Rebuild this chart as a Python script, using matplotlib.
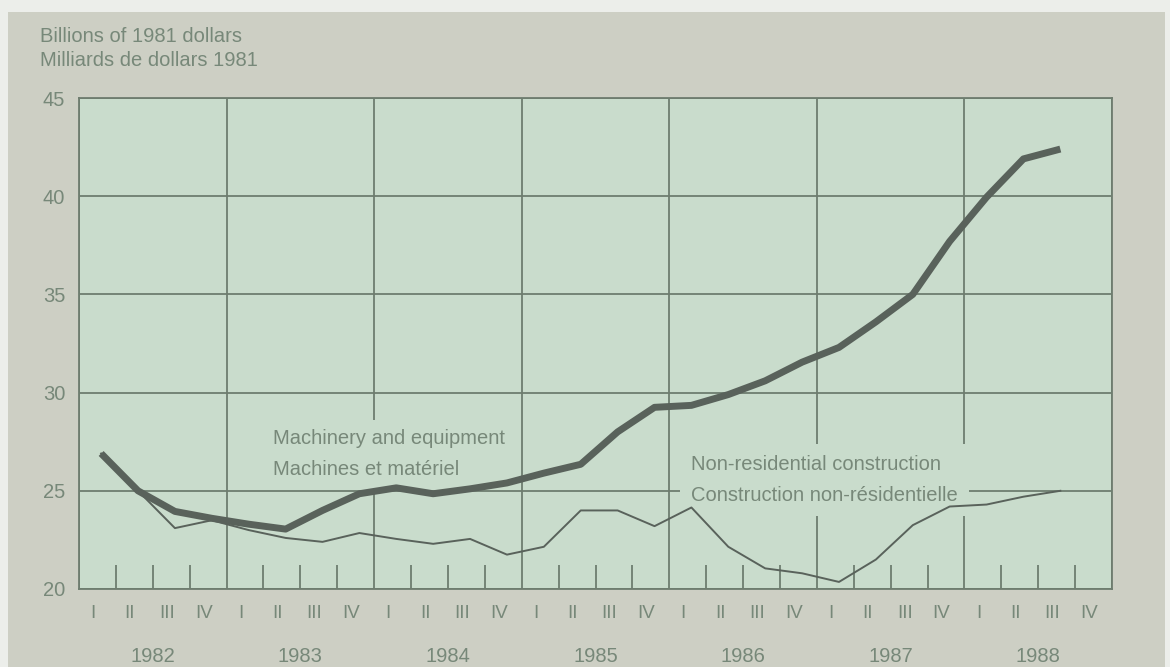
import matplotlib
matplotlib.use('Agg')
import matplotlib.pyplot as plt
from matplotlib.patches import Rectangle
import numpy as np

plt.rcParams['font.family'] = ['Liberation Sans', 'DejaVu Sans']

# quarterly data, 1982 I .. 1988 III (billions of 1981 dollars)
years = ['1982', '1983', '1984', '1985', '1986', '1987', '1988']
quarters = ['I', 'II', 'III', 'IV']
machinery = [26.9, 25.0, 23.95, 23.6, 23.3, 23.05, 24.0, 24.85,
             25.15, 24.85, 25.1, 25.4, 25.9, 26.35, 28.0, 29.25,
             29.35, 29.9, 30.6, 31.55, 32.3, 33.6, 35.0, 37.7,
             39.95, 41.9, 42.4]
construction = [26.9, 25.0, 23.1, 23.5, 23.0, 22.6, 22.4, 22.85,
                22.55, 22.3, 22.55, 21.75, 22.15, 24.0, 24.0, 23.2,
                24.15, 22.15, 21.05, 20.8, 20.36, 21.5, 23.25, 24.2,
                24.3, 24.7, 25.0]

bg_panel = '#cdcfc4'
plot_bg = '#c9dccc'
grid_c = '#6e7d6f'
line_c = '#59625b'
text_c = '#778879'

fig = plt.figure(figsize=(11.7, 6.67), dpi=100)
fig.patch.set_facecolor('#eceeea')
fig.patches.append(Rectangle((8/1170, 0), 1157/1170, 655/667, transform=fig.transFigure,
                             facecolor=bg_panel, edgecolor='none', zorder=-5))

ax = fig.add_axes([79/1170, 78/667, 1033/1170, 491/667])
ax.set_zorder(1)
ax.set_facecolor(plot_bg)

n_q = len(years) * 4
x = np.arange(len(machinery)) + 0.6

ax.plot(x, construction, color=line_c, lw=1.4, zorder=4, solid_joinstyle='round')
ax.plot(x, machinery, color=line_c, lw=5, zorder=5, solid_joinstyle='round',
        solid_capstyle='butt')

ax.set_xlim(0, n_q)
ax.set_ylim(20, 45)
ax.set_yticks(np.arange(20, 46, 5))
ax.set_xticks(np.arange(0, n_q + 1, 4))
ax.set_xticks([q for q in range(n_q) if q % 4 != 0], minor=True)
ax.grid(True, which='major', color=grid_c, lw=1.3, zorder=1)
ax.set_axisbelow(True)
for s in ax.spines.values():
    s.set_color(grid_c)
    s.set_linewidth(1.3)

ax.tick_params(axis='x', which='major', length=0, labelbottom=False)
ax.tick_params(axis='x', which='minor', direction='in', length=17, width=1.3,
               color=grid_c, labelbottom=False)
ax.tick_params(axis='y', length=0, pad=10, labelsize=14.5, labelcolor=text_c)

# quarter and year labels under the axis
xt = ax.get_xaxis_transform()
for i, yr in enumerate(years):
    for j, q in enumerate(quarters):
        ax.text(i * 4 + j + 0.38, -0.049, q, transform=xt, ha='center', va='center',
                fontsize=13.5, color=text_c)
    ax.text(i * 4 + 2, -0.138, yr, transform=xt, ha='center', va='center',
            fontsize=14.5, color=text_c)

# series labels
ax.text(5.26, 26.88, 'Machinery and equipment\nMachines et matériel',
        ha='left', va='center', fontsize=14.5, color=text_c, linespacing=1.85, zorder=3,
        bbox=dict(facecolor=plot_bg, edgecolor='none', pad=6))
ax.text(16.6, 25.55, 'Non-residential construction\nConstruction non-résidentielle',
        ha='left', va='center', fontsize=14.5, color=text_c, linespacing=1.85, zorder=3,
        bbox=dict(facecolor=plot_bg, edgecolor='none', pad=8))

fig.text(40/1170, 1 - 36/667, 'Billions of 1981 dollars', ha='left', va='center',
         fontsize=14.5, color=text_c)
fig.text(40/1170, 1 - 60/667, 'Milliards de dollars 1981', ha='left', va='center',
         fontsize=14.5, color=text_c)

fig.savefig('out.png', dpi=100, facecolor=fig.get_facecolor())
